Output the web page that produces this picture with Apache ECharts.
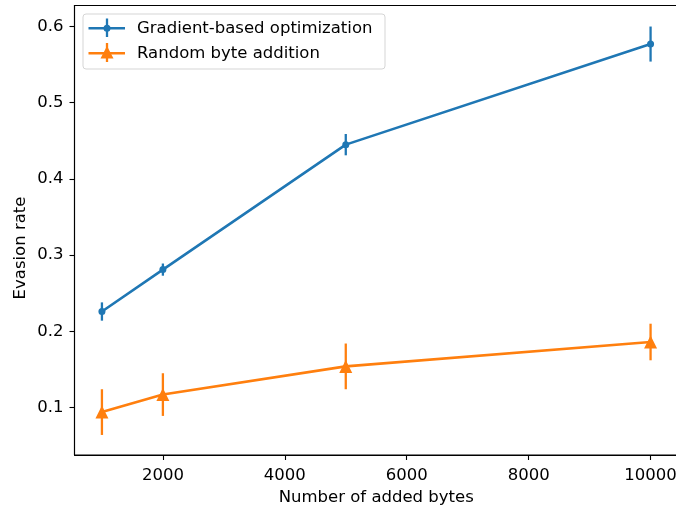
<!DOCTYPE html>
<html><head><meta charset="utf-8">
<script src="https://cdn.jsdelivr.net/npm/echarts@6/dist/echarts.min.js"></script>
<style>html,body{margin:0;padding:0;background:#fff}#c{width:676px;height:507px}</style>
</head><body><div id="c"></div>
<script>
const xValues = [1000, 2000, 5000, 10000];
const gradientRate = [0.226, 0.281, 0.445, 0.577];
const gradientErr = [0.012, 0.008, 0.014, 0.023];
const randomRate = [0.094, 0.117, 0.154, 0.186];
const randomErr = [0.030, 0.028, 0.030, 0.024];
const xTicks = [2000, 4000, 6000, 8000, 10000];
const yTicks = [0.1, 0.2, 0.3, 0.4, 0.5, 0.6];
const seriesNames = ['Gradient-based optimization', 'Random byte addition'];
const xName = 'Number of added bytes';
const yName = 'Evasion rate';
const BLUE = '#1f77b4', ORANGE = '#ff7f0e';
const FONT = 'DejaVu Sans';
const FS = 16.5;

function errData(vals, errs) {
  return xValues.map((x, i) => [x, vals[i] - errs[i], vals[i] + errs[i]]);
}
function errSeries(vals, errs, color) {
  return {
    type: 'custom', z: 3, silent: true,
    data: errData(vals, errs),
    encode: { x: 0, y: [1, 2] },
    renderItem: function (params, api) {
      const lo = api.coord([api.value(0), api.value(1)]);
      const hi = api.coord([api.value(0), api.value(2)]);
      return { type: 'line', shape: { x1: lo[0], y1: lo[1], x2: hi[0], y2: hi[1] },
        style: { stroke: color, lineWidth: 2.3 } };
    }
  };
}
const chart = echarts.init(document.getElementById('c'), null, { renderer: 'canvas' });
chart.setOption({
  animation: false,
  grid: { left: 74.5, top: 5.5, width: 603.5, height: 449.5, show: true, borderColor: '#000', borderWidth: 1.1,
    containLabel: false, outerBoundsMode: 'none' },
  xAxis: {
    type: 'value', min: 550, max: 10450,
    name: xName, nameLocation: 'middle', nameGap: 34,
    nameTextStyle: { fontFamily: FONT, fontSize: FS, color: '#000' },
    axisLine: { show: true, onZero: false, lineStyle: { color: '#000', width: 1.1 } },
    axisTick: { show: true, length: 5, lineStyle: { color: '#000', width: 1.1 }, customValues: xTicks },
    axisLabel: { fontFamily: FONT, fontSize: FS, color: '#000', margin: 12, customValues: xTicks,
      hideOverlap: false, formatter: v => String(Math.round(v)) },
    splitLine: { show: false }
  },
  yAxis: {
    type: 'value', min: 0.0377, max: 0.6276,
    axisLine: { show: true, onZero: false, lineStyle: { color: '#000', width: 1.1 } },
    axisTick: { show: true, length: 5, lineStyle: { color: '#000', width: 1.1 }, customValues: yTicks },
    axisLabel: { fontFamily: FONT, fontSize: FS, color: '#000', margin: 11, customValues: yTicks,
      formatter: v => v.toFixed(1) },
    splitLine: { show: false }
  },
  series: [
    errSeries(gradientRate, gradientErr, BLUE),
    errSeries(randomRate, randomErr, ORANGE),
    { type: 'line', name: seriesNames[0], z: 4, data: xValues.map((x, i) => [x, gradientRate[i]]),
      lineStyle: { color: BLUE, width: 2.6 }, itemStyle: { color: BLUE },
      symbol: 'circle', symbolSize: 7 },
    { type: 'line', name: seriesNames[1], z: 4, data: xValues.map((x, i) => [x, randomRate[i]]),
      lineStyle: { color: ORANGE, width: 2.6 }, itemStyle: { color: ORANGE },
      symbol: 'triangle', symbolSize: 13 }
  ],
  graphic: [
    { type: 'text', x: 21, y: 248, rotation: Math.PI / 2,
      style: { text: yName, fontFamily: FONT, fontSize: FS, fill: '#000', align: 'center', verticalAlign: 'middle' } },
    { type: 'rect', shape: { x: 83, y: 14, width: 302, height: 55, r: 3 },
      style: { fill: 'rgba(255,255,255,0.8)', stroke: '#d5d5d5', lineWidth: 1 }, z: 10 },
    { type: 'line', shape: { x1: 88.5, y1: 28.3, x2: 125, y2: 28.3 }, style: { stroke: BLUE, lineWidth: 2.6 }, z: 11 },
    { type: 'line', shape: { x1: 107, y1: 18.5, x2: 107, y2: 37 }, style: { stroke: BLUE, lineWidth: 2.3 }, z: 11 },
    { type: 'circle', shape: { cx: 107, cy: 28.3, r: 3.5 }, style: { fill: BLUE }, z: 12 },
    { type: 'text', x: 137, y: 28.3, style: { text: seriesNames[0], fontFamily: FONT, fontSize: FS, fill: '#000', verticalAlign: 'middle' }, z: 12 },
    { type: 'line', shape: { x1: 88.5, y1: 53.3, x2: 125, y2: 53.3 }, style: { stroke: ORANGE, lineWidth: 2.6 }, z: 11 },
    { type: 'line', shape: { x1: 107, y1: 43, x2: 107, y2: 62 }, style: { stroke: ORANGE, lineWidth: 2.3 }, z: 11 },
    { type: 'polygon', shape: { points: [[107, 46], [113.5, 58.5], [100.5, 58.5]] }, style: { fill: ORANGE }, z: 12 },
    { type: 'text', x: 137, y: 53.3, style: { text: seriesNames[1], fontFamily: FONT, fontSize: FS, fill: '#000', verticalAlign: 'middle' }, z: 12 }
  ]
});
</script></body></html>
